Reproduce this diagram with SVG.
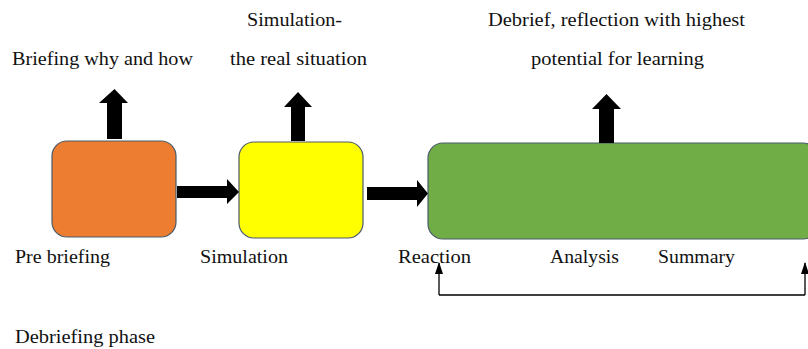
<svg xmlns="http://www.w3.org/2000/svg" width="808" height="349" viewBox="0 0 808 349">
<defs>
<style>
.box{stroke:#4a5a6a;stroke-width:1.2}
.t{font-family:'Liberation Serif','DejaVu Serif',serif;font-size:19px;fill:#111}
.fat{fill:#000}
.thin{stroke:#000;stroke-width:1.3;fill:none}
</style>
<marker id="ah" markerWidth="12" markerHeight="8" refX="11" refY="4" orient="auto" markerUnits="userSpaceOnUse" viewBox="0 0 12 8">
<path d="M0,0 L12,4 L0,8 Z" fill="#000"/>
</marker>
</defs>
<rect width="808" height="349" fill="#fff"/>
<g id="prebriefing">
<rect class="box" x="52" y="141" width="124" height="96" rx="15" fill="#ED7D31"/>
<text class="t" font-family="Liberation Serif, serif" x="15" y="263" textLength="95" lengthAdjust="spacingAndGlyphs">Pre briefing</text>
</g>
<g id="simulation">
<rect class="box" x="239" y="142" width="124" height="96" rx="15" fill="#FFFF00"/>
<text class="t" font-family="Liberation Serif, serif" x="200" y="263" textLength="88" lengthAdjust="spacingAndGlyphs">Simulation</text>
</g>
<g id="debrief">
<rect class="box" x="428" y="143" width="390" height="96" rx="15" fill="#70AD47"/>
<text class="t" font-family="Liberation Serif, serif" x="398" y="263" textLength="73" lengthAdjust="spacingAndGlyphs">Reaction</text>
<text class="t" font-family="Liberation Serif, serif" x="550" y="263" textLength="69" lengthAdjust="spacingAndGlyphs">Analysis</text>
<text class="t" font-family="Liberation Serif, serif" x="658" y="263" textLength="77" lengthAdjust="spacingAndGlyphs">Summary</text>
</g>
<g id="label-briefing">
<text class="t" font-family="Liberation Serif, serif" x="12" y="65" textLength="181" lengthAdjust="spacingAndGlyphs">Briefing why and how</text>
</g>
<g id="label-simulation">
<text class="t" font-family="Liberation Serif, serif" x="247" y="26" textLength="95" lengthAdjust="spacingAndGlyphs">Simulation-</text>
<text class="t" font-family="Liberation Serif, serif" x="230" y="65" textLength="137" lengthAdjust="spacingAndGlyphs">the real situation</text>
</g>
<g id="label-debrief">
<text class="t" font-family="Liberation Serif, serif" x="488" y="26" textLength="257" lengthAdjust="spacingAndGlyphs">Debrief, reflection with highest</text>
<text class="t" font-family="Liberation Serif, serif" x="531" y="65" textLength="173" lengthAdjust="spacingAndGlyphs">potential for learning</text>
</g>
<g id="label-phase">
<text class="t" font-family="Liberation Serif, serif" x="15" y="343" textLength="140" lengthAdjust="spacingAndGlyphs">Debriefing phase</text>
</g>
<g id="connectors">
<path class="fat" d="M107,139 L107,103 L99,103 L114.5,89 L128,103 L122,103 L122,139 Z"/>
<path class="fat" d="M291,141 L291,107 L284,107 L298,92 L312,107 L305,107 L305,141 Z"/>
<path class="fat" d="M599,143 L599,109 L592,109 L606.5,94 L621,109 L614,109 L614,143 Z"/>
<path class="fat" d="M177,186 L227,186 L227,179 L239,192 L227,204 L227,198 L177,198 Z"/>
<path class="fat" d="M367,187 L417,187 L417,180 L428,193.5 L417,207 L417,200 L367,200 Z"/>
<path class="thin" d="M439,295 L805,295"/>
<path class="thin" d="M439,295 L439,263" marker-end="url(#ah)"/>
<path class="thin" d="M805,295 L805,263" marker-end="url(#ah)"/>
</g>
</svg>
